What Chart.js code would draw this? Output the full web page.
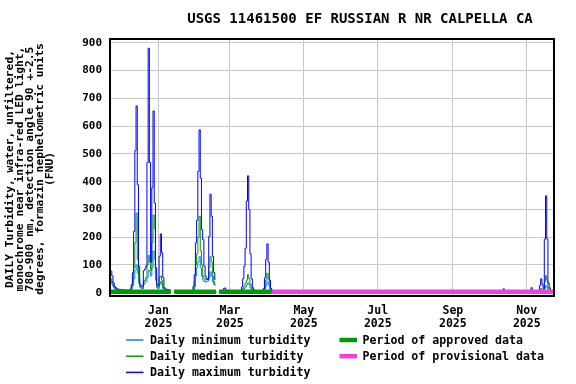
<!DOCTYPE html>
<html><head><meta charset="utf-8">
<script src="https://cdn.jsdelivr.net/npm/chart.js@4.4.0/dist/chart.umd.min.js"></script>
<style>html,body{margin:0;padding:0;background:#fff;}canvas{display:block;}</style>
</head><body>
<canvas id="c" width="576" height="384"></canvas>
<script>
const TITLE = 'USGS 11461500 EF RUSSIAN R NR CALPELLA CA';
const Y_TITLE = [
  'DAILY Turbidity, water, unfiltered,',
  'monochrome near infra-red LED light,',
  '780-900 nm, detection angle 90 +-2.5',
  'degrees, formazin nephelometric units',
  '(FNU)'
];
// day offsets relative to 2025-01-01; first value is 2024-11-22
const FIRST_DAY = -40;

const dailyMax = [
  80,78,60,35,22,18,14,13,12,11,
  10,10,10,10,9,9,9,12,30,72,
  221,512,673,389,95,30,23,22,80,85,
  95,469,881,469,110,378,655,323,90,30,
  25,131,212,144,55,18,14,12,11,10,
  10,null,null,7,7,6,6,7,6,6,
  6,6,7,7,6,6,6,6,8,23,
  65,179,260,437,587,413,227,191,95,59,
  50,47,203,355,275,131,72,47,null,null,
  7,6,6,7,15,17,8,6,6,6,
  6,6,6,6,6,7,6,6,7,20,
  50,95,160,330,421,300,140,50,18,10,
  8,7,7,6,6,6,6,15,53,119,
  176,110,45,15,8,6,6,5,5,5,
  5,5,5,5,5,5,5,4,4,4,
  4,4,4,4,4,4,4,4,4,4,
  4,4,4,4,4,4,4,4,4,4,
  4,4,3,3,3,3,3,3,3,3,
  3,3,3,3,3,3,3,3,3,3,
  3,3,3,3,3,3,3,3,3,3,
  3,3,3,3,3,3,3,3,3,3,
  3,3,3,3,3,3,3,3,3,3,
  3,3,3,3,3,3,3,3,3,3,
  3,3,3,3,3,3,3,3,3,3,
  3,3,3,3,3,3,3,3,3,3,
  3,3,3,3,3,3,3,3,3,3,
  3,3,3,3,3,3,3,3,3,3,
  3,3,3,3,3,3,3,3,3,3,
  3,3,3,3,3,3,3,3,3,3,
  3,3,3,3,3,3,3,3,3,3,
  3,3,3,3,3,3,3,3,3,3,
  3,3,3,3,3,3,3,3,3,3,
  3,3,3,3,4,14,4,3,3,3,
  3,3,3,3,3,4,4,3,3,3,
  3,3,4,4,4,5,5,6,18,6,
  5,5,6,6,8,25,50,30,15,193,
  349,193,35,18,10
];
const dailyMedian = [
  55,50,38,25,18,14,11,10,10,9,
  9,9,8,8,8,8,8,9,20,40,
  90,180,287,120,55,25,18,16,40,45,
  55,100,135,110,80,180,280,230,70,25,
  18,55,60,45,20,12,10,9,9,8,
  8,null,null,5,5,5,5,5,5,5,
  5,5,5,5,5,5,5,5,6,12,
  40,100,140,200,275,150,100,60,50,45,
  48,50,90,130,110,60,40,30,null,null,
  5,5,5,5,8,9,6,5,5,5,
  5,5,5,5,5,5,5,5,5,8,
  15,25,35,45,65,50,30,15,8,6,
  5,5,5,5,5,5,5,8,20,45,
  70,50,25,10,6,5,5,4,4,4,
  4,4,4,4,4,4,4,4,4,4,
  4,4,4,3,3,3,3,3,3,3,
  3,3,3,3,3,3,3,3,3,3,
  3,3,3,3,3,3,3,3,3,3,
  3,3,3,3,3,2,2,2,2,2,
  2,2,2,2,2,2,2,2,2,2,
  2,2,2,2,2,2,2,2,2,2,
  2,2,2,2,2,2,2,2,2,2,
  2,2,2,2,2,2,2,2,2,2,
  2,2,2,2,2,2,2,2,2,2,
  2,2,2,2,2,2,2,2,2,2,
  2,2,2,2,2,2,2,2,2,2,
  2,2,2,2,2,2,2,2,2,2,
  2,2,2,2,2,2,2,2,2,2,
  2,2,2,2,2,2,2,2,2,2,
  2,2,2,2,2,2,2,2,2,2,
  2,2,2,2,2,2,2,2,2,2,
  2,2,2,2,2,2,2,2,2,2,
  2,2,2,2,3,5,3,2,2,2,
  2,2,2,2,2,2,2,2,2,2,
  2,2,3,3,3,3,4,4,6,4,
  4,4,4,5,6,10,15,12,8,40,
  61,45,15,10,7
];
const dailyMin = [
  45,40,30,20,14,12,9,8,8,8,
  8,7,7,7,7,7,7,8,15,25,
  50,80,100,70,35,20,15,14,30,35,
  40,55,80,75,60,90,150,120,45,18,
  14,30,40,30,14,10,8,8,7,7,
  7,null,null,4,4,4,4,4,4,4,
  4,4,4,4,4,4,4,4,5,8,
  20,60,90,110,130,90,60,45,40,38,
  40,42,55,75,60,40,30,25,null,null,
  4,4,4,4,6,7,5,4,4,4,
  4,4,4,4,4,4,4,4,4,6,
  10,15,20,28,35,30,18,10,6,5,
  4,4,4,4,4,4,4,6,12,25,
  40,30,15,8,5,4,4,3,3,3,
  3,3,3,3,3,3,3,3,3,3,
  3,3,3,3,3,3,3,3,3,3,
  3,3,3,3,3,2,2,2,2,2,
  2,2,2,2,2,2,2,2,2,2,
  2,2,2,2,2,2,2,2,2,2,
  2,2,2,2,2,2,2,2,2,2,
  2,2,2,2,2,2,2,2,2,2,
  2,2,2,2,2,2,2,2,2,2,
  2,2,2,2,2,2,2,2,2,2,
  2,2,2,2,2,2,2,2,2,2,
  2,2,2,2,2,2,2,2,2,2,
  2,2,2,2,2,2,2,2,2,2,
  2,2,2,2,2,2,2,2,2,2,
  2,2,2,2,2,2,2,2,2,2,
  2,2,2,2,2,2,2,2,2,2,
  2,2,2,2,2,2,2,2,2,2,
  2,2,2,2,2,2,2,2,2,2,
  2,2,2,2,2,2,2,2,2,2,
  2,2,2,2,2,4,2,2,2,2,
  2,2,2,2,2,2,2,2,2,2,
  2,2,2,2,2,2,3,3,4,3,
  3,3,3,3,4,6,8,8,5,15,
  25,20,8,6,5
];
const approvedPeriods = [[-40, 10.2], [13, 47.6], [50.1, 93.6]];
const provisionalPeriods = [[93.6, 326.5]];
const BAR_LEVEL = 3;

const X_MIN = -40, X_MAX = 326.5;
const monthTickDays = [0, 59, 120, 181, 243, 304];
const monthTickLabels = [['Jan','2025'],['Mar','2025'],['May','2025'],['Jul','2025'],['Sep','2025'],['Nov','2025']];
const yTicks = [0,100,200,300,400,500,600,700,800,900];

const C_MIN = '#0a8ad8', C_MED = '#00a000', C_MAX = '#0000ff', C_APP = '#009900', C_PROV = '#f040e0';
const legendItems = [
  {label:'Daily minimum turbidity', color:C_MIN, w:1.5, col:0, row:0},
  {label:'Daily median turbidity', color:C_MED, w:1.5, col:0, row:1},
  {label:'Daily maximum turbidity', color:C_MAX, w:1.5, col:0, row:2},
  {label:'Period of approved data', color:C_APP, w:4.5, col:1, row:0},
  {label:'Period of provisional data', color:C_PROV, w:4.5, col:1, row:1}
];

const FONT = "'DejaVu Sans Mono', monospace";
const toPts = arr => arr.map((v,i)=>({x: FIRST_DAY + i, y: v}));
const periodPts = periods => {
  const out = [];
  periods.forEach(([a,b]) => { out.push({x:a,y:BAR_LEVEL},{x:b,y:BAR_LEVEL},{x:b,y:null}); });
  return out;
};

const decor = {
  id:'decor',
  afterDraw(chart){
    const ctx = chart.ctx, a = chart.chartArea;
    ctx.save();
    ctx.strokeStyle = '#000'; ctx.lineWidth = 2;
    ctx.strokeRect(a.left, a.top, a.right - a.left, a.bottom - a.top);
    ctx.fillStyle = '#000';
    ctx.font = 'bold 14px ' + FONT;
    ctx.textAlign = 'center'; ctx.textBaseline = 'middle';
    ctx.fillText(TITLE, 360, 19);
    ctx.font = 'bold 11.3px ' + FONT;
    Y_TITLE.forEach((t,i) => {
      ctx.save();
      ctx.translate(10 + i*10.1, 169);
      ctx.rotate(-Math.PI/2);
      ctx.fillText(t, 0, 0);
      ctx.restore();
    });
    ctx.font = 'bold 11.6px ' + FONT;
    ctx.textAlign = 'left';
    legendItems.forEach(it => {
      const lx = it.col === 0 ? 126 : 339.5;
      const tx = it.col === 0 ? 150 : 362.5;
      const y = 340 + it.row * 16.2;
      ctx.strokeStyle = it.color; ctx.lineWidth = it.w; ctx.lineCap = 'butt';
      ctx.beginPath(); ctx.moveTo(lx, y); ctx.lineTo(lx + 17.5, y); ctx.stroke();
      ctx.fillText(it.label, tx, y + 1);
    });
    ctx.restore();
  }
};

new Chart(document.getElementById('c'), {
  type:'line',
  data:{datasets:[
    {label:'approved', data:periodPts(approvedPeriods), borderColor:C_APP, borderWidth:4.5, borderCapStyle:'butt', spanGaps:false, order:0},
    {label:'provisional', data:periodPts(provisionalPeriods), borderColor:C_PROV, borderWidth:4.5, borderCapStyle:'butt', spanGaps:false, order:0},
    {label:'Daily maximum turbidity', data:toPts(dailyMax), borderColor:C_MAX, borderWidth:1, stepped:'middle', spanGaps:false, order:1},
    {label:'Daily median turbidity', data:toPts(dailyMedian), borderColor:C_MED, borderWidth:1, stepped:'middle', spanGaps:false, order:2},
    {label:'Daily minimum turbidity', data:toPts(dailyMin), borderColor:C_MIN, borderWidth:1, stepped:'middle', spanGaps:false, order:3}
  ]},
  options:{
    responsive:false, animation:false, events:[],
    layout:{padding:{top:39, right:22, left:0, bottom:0}},
    plugins:{legend:{display:false}, title:{display:false}, tooltip:{enabled:false}},
    elements:{point:{radius:0}, line:{tension:0, fill:false}},
    scales:{
      x:{type:'linear', min:X_MIN, max:X_MAX,
        afterBuildTicks: s => { s.ticks = monthTickDays.map(v => ({value:v})); },
        afterFit: s => { s.height = 88; },
        ticks:{autoSkip:false, maxRotation:0, minRotation:0, padding:8, color:'#000',
          font:{family:FONT, size:11.5, weight:'bold', lineHeight:1.15},
          callback: v => monthTickLabels[monthTickDays.indexOf(v)]},
        grid:{color:'#c8c8c8', lineWidth:1, drawTicks:false},
        border:{display:false}},
      y:{type:'linear', min:-12, max:914,
        afterBuildTicks: s => { s.ticks = yTicks.map(v => ({value:v})); },
        afterFit: s => { s.width = 110; },
        ticks:{padding:8, color:'#000', font:{family:FONT, size:11, weight:'bold'}},
        grid:{color:'#c8c8c8', lineWidth:1, drawTicks:false},
        border:{display:false}}
    }
  },
  plugins:[decor]
});
</script>
</body></html>
